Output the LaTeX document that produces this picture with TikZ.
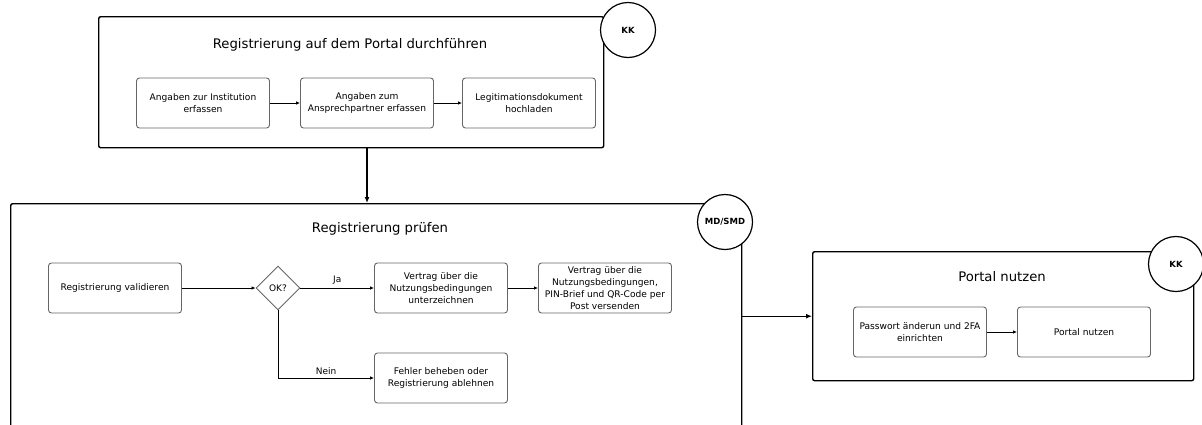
\documentclass[tikz,border=0pt]{standalone}
\usepackage{fontspec}
\setmainfont{DejaVu Sans}
\usepackage{tikz}
\usetikzlibrary{shapes, arrows.meta, positioning}

\tikzset{
    phase/.style={draw, line width=1.4pt, rounded corners=2pt, fill=white, anchor=north west, inner sep=0pt},
    phasetitle/.style={font=\fontsize{13.2}{15}\selectfont},
    task/.style={draw=black!60, line width=0.9pt, rounded corners=3pt, fill=white, minimum width=133pt, minimum height=50pt, align=center, inner sep=1pt, font=\fontsize{9.1}{11.8}\selectfont},
    decision/.style={diamond, draw=black!60, line width=0.9pt, fill=white, minimum size=44pt, inner sep=0pt, font=\fontsize{9}{10}\selectfont},
    role/.style={circle, draw, line width=1.2pt, fill=white, minimum size=55pt, inner sep=0pt, font=\bfseries\fontsize{8.5}{9}\selectfont},
    flow/.style={-{Latex[length=4pt, width=3.5pt]}, line width=0.8pt},
    bigflow/.style={-{Latex[length=6pt, width=5pt]}, line width=1.3pt},
    cond/.style={font=\fontsize{9}{10}\selectfont}
}

\begin{document}
\begin{tikzpicture}[x=1pt, y=-1pt]
    \path[use as bounding box, clip] (0,0) rectangle (1202,424);

    % Registrierung auf dem Portal
    \node[phase, minimum width=505pt, minimum height=131pt] (regbox) at (98,16) {};
    \node[phasetitle] (regtitle) at (350,45) {Registrierung auf dem Portal durchführen};
    \node[task] (inst) at (203,103) {Angaben zur Institution\\erfassen};
    \node[task] (ansp) at (367,103) {Angaben zum\\Ansprechpartner erfassen};
    \node[task] (legi) at (529,103) {Legitimationsdokument\\hochladen};
    \node[role] (kkreg) at (628,30) {KK};
    \draw[flow] (inst) -- (ansp);
    \draw[flow] (ansp) -- (legi);

    % Registrierung pruefen
    \node[phase, minimum width=731pt, minimum height=260pt] (pruefbox) at (10,203) {};
    \node[phasetitle] (prueftitle) at (380,229) {Registrierung prüfen};
    \node[task] (valid) at (115,288) {Registrierung validieren};
    \node[decision] (ok) at (278,288) {OK?};
    \node[task] (sign) at (441,288) {Vertrag über die\\Nutzungsbedingungen\\unterzeichnen};
    \node[task] (post) at (605,288) {Vertrag über die\\Nutzungsbedingungen,\\PIN-Brief und QR-Code per\\Post versenden};
    \node[task] (fehler) at (441,378) {Fehler beheben oder\\Registrierung ablehnen};
    \node[role] (mdsmd) at (725,222) {MD/SMD};
    \draw[flow] (valid) -- (ok);
    \draw[flow] (ok) -- node[cond, above] {Ja} (sign);
    \draw[flow] (sign) -- (post);
    \draw[flow] (ok.south) |- node[cond, above, pos=0.75] {Nein} (fehler.west);

    % Portal nutzen
    \node[phase, minimum width=381pt, minimum height=129pt] (portalbox) at (812,251) {};
    \node[phasetitle] (portaltitle) at (1002,277) {Portal nutzen};
    \node[task] (pass) at (920,332) {Passwort änderun und 2FA\\einrichten};
    \node[task] (nutzen) at (1084,332) {Portal nutzen};
    \node[role] (kkportal) at (1176,264) {KK};
    \draw[flow] (pass) -- (nutzen);

    % Verbindungen zwischen den Phasen
    \draw[bigflow] (regbox.south -| ansp.south) -- (pruefbox.north -| ansp.south);
    \draw[bigflow] (pruefbox.east |- portalbox.west) -- (portalbox.west);
\end{tikzpicture}
\end{document}
